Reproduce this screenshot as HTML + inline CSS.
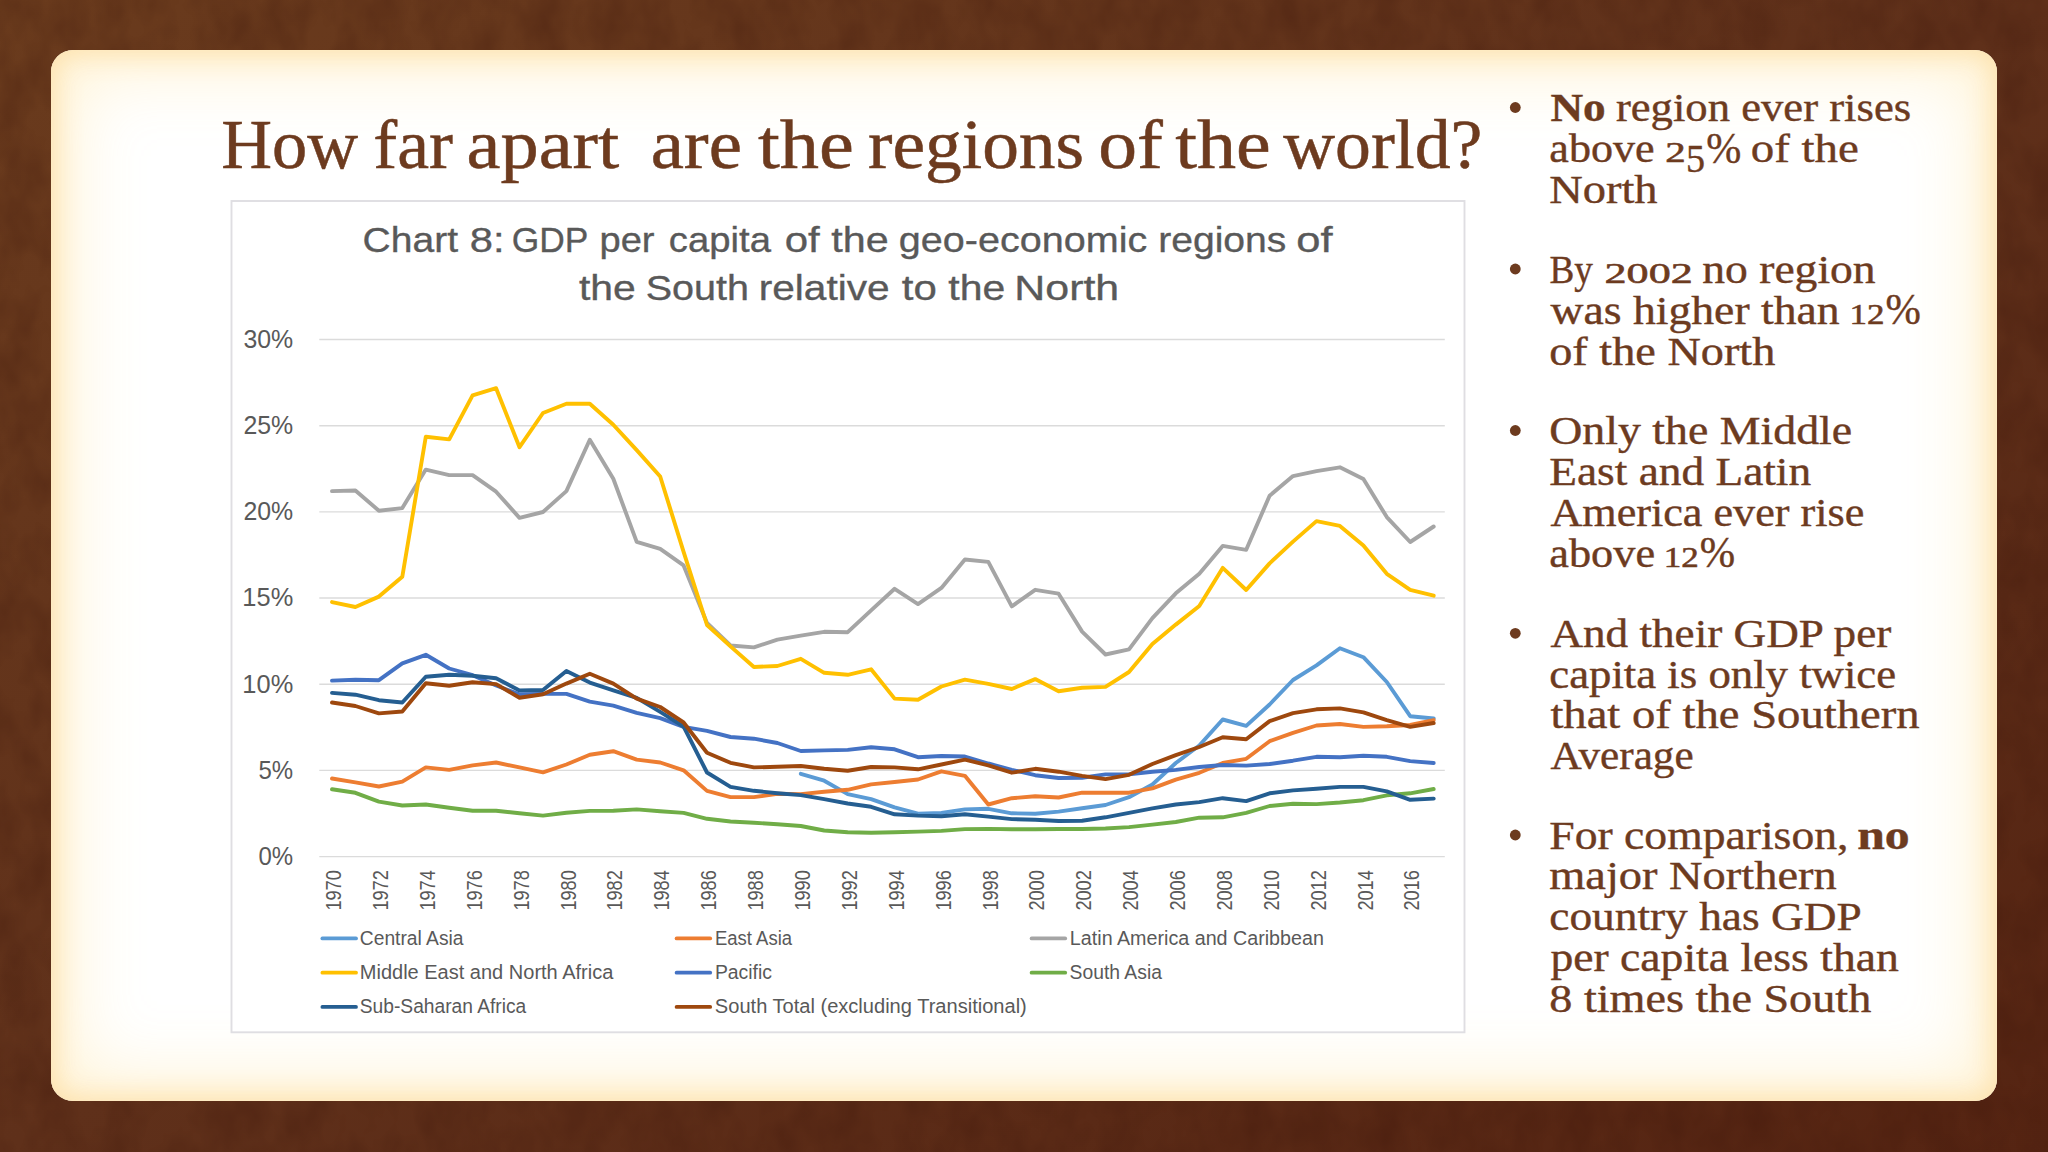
<!DOCTYPE html>
<html lang="en">
<head>
<meta charset="utf-8">
<title>How far apart are the regions of the world?</title>
<style>
html,body{margin:0;padding:0;}
body{width:2048px;height:1152px;overflow:hidden;position:relative;
 background:linear-gradient(to bottom right,#6a3b1d 0%,#5f301a 50%,#552412 100%);}
#card{position:absolute;left:51px;top:50px;width:1946px;height:1051px;border-radius:22px;
 background:#ffffff;
 box-shadow:inset 0 0 26px 5px rgba(253,224,168,0.9), inset 0 0 70px 22px rgba(255,241,206,0.85);}
</style>
</head>
<body>
<svg width="2048" height="1152" style="position:absolute;left:0;top:0">
<filter id="tex" x="0" y="0" width="100%" height="100%" color-interpolation-filters="sRGB">
<feTurbulence type="fractalNoise" baseFrequency="0.03 0.02" numOctaves="3" seed="7" result="n"/>
<feColorMatrix type="matrix" values="0 0 0 0 0.22  0 0 0 0 0.07  0 0 0 0 0.03  1.3 0 0 0 -0.45"/>
</filter>
<rect width="2048" height="1152" filter="url(#tex)" opacity="0.38"/>
</svg>
<div id="card"></div>
<svg width="2048" height="1152" viewBox="0 0 2048 1152" style="position:absolute;left:0;top:0">
<rect x="231.5" y="201" width="1233" height="831.3" fill="#ffffff" stroke="#dfdee2" stroke-width="1.9"/>
<line x1="319.3" y1="856.60" x2="1444.8" y2="856.60" stroke="#dbdbdb" stroke-width="1.4"/>
<line x1="319.3" y1="770.42" x2="1444.8" y2="770.42" stroke="#dbdbdb" stroke-width="1.4"/>
<line x1="319.3" y1="684.24" x2="1444.8" y2="684.24" stroke="#dbdbdb" stroke-width="1.4"/>
<line x1="319.3" y1="598.06" x2="1444.8" y2="598.06" stroke="#dbdbdb" stroke-width="1.4"/>
<line x1="319.3" y1="511.88" x2="1444.8" y2="511.88" stroke="#dbdbdb" stroke-width="1.4"/>
<line x1="319.3" y1="425.70" x2="1444.8" y2="425.70" stroke="#dbdbdb" stroke-width="1.4"/>
<line x1="319.3" y1="339.52" x2="1444.8" y2="339.52" stroke="#dbdbdb" stroke-width="1.4"/>
<g font-family="'Liberation Sans', sans-serif" font-size="25.3" fill="#595959">
<text x="258.45" y="865.00" textLength="34.68" lengthAdjust="spacingAndGlyphs">0%</text>
<text x="258.45" y="778.82" textLength="34.68" lengthAdjust="spacingAndGlyphs">5%</text>
<text x="242.39" y="692.64" textLength="50.85" lengthAdjust="spacingAndGlyphs">10%</text>
<text x="242.39" y="606.46" textLength="50.85" lengthAdjust="spacingAndGlyphs">15%</text>
<text x="243.42" y="520.28" textLength="49.81" lengthAdjust="spacingAndGlyphs">20%</text>
<text x="243.42" y="434.10" textLength="49.81" lengthAdjust="spacingAndGlyphs">25%</text>
<text x="243.42" y="347.92" textLength="49.81" lengthAdjust="spacingAndGlyphs">30%</text>
</g>
<g font-family="'Liberation Sans', sans-serif" font-size="21.6" fill="#595959">
<text transform="translate(341.20,910.6) rotate(-90)" textLength="40.4" lengthAdjust="spacingAndGlyphs">1970</text>
<text transform="translate(388.08,910.6) rotate(-90)" textLength="40.4" lengthAdjust="spacingAndGlyphs">1972</text>
<text transform="translate(434.96,910.6) rotate(-90)" textLength="40.4" lengthAdjust="spacingAndGlyphs">1974</text>
<text transform="translate(481.84,910.6) rotate(-90)" textLength="40.4" lengthAdjust="spacingAndGlyphs">1976</text>
<text transform="translate(528.72,910.6) rotate(-90)" textLength="40.4" lengthAdjust="spacingAndGlyphs">1978</text>
<text transform="translate(575.60,910.6) rotate(-90)" textLength="40.4" lengthAdjust="spacingAndGlyphs">1980</text>
<text transform="translate(622.48,910.6) rotate(-90)" textLength="40.4" lengthAdjust="spacingAndGlyphs">1982</text>
<text transform="translate(669.36,910.6) rotate(-90)" textLength="40.4" lengthAdjust="spacingAndGlyphs">1984</text>
<text transform="translate(716.24,910.6) rotate(-90)" textLength="40.4" lengthAdjust="spacingAndGlyphs">1986</text>
<text transform="translate(763.12,910.6) rotate(-90)" textLength="40.4" lengthAdjust="spacingAndGlyphs">1988</text>
<text transform="translate(810.00,910.6) rotate(-90)" textLength="40.4" lengthAdjust="spacingAndGlyphs">1990</text>
<text transform="translate(856.88,910.6) rotate(-90)" textLength="40.4" lengthAdjust="spacingAndGlyphs">1992</text>
<text transform="translate(903.76,910.6) rotate(-90)" textLength="40.4" lengthAdjust="spacingAndGlyphs">1994</text>
<text transform="translate(950.64,910.6) rotate(-90)" textLength="40.4" lengthAdjust="spacingAndGlyphs">1996</text>
<text transform="translate(997.52,910.6) rotate(-90)" textLength="40.4" lengthAdjust="spacingAndGlyphs">1998</text>
<text transform="translate(1044.40,910.6) rotate(-90)" textLength="40.4" lengthAdjust="spacingAndGlyphs">2000</text>
<text transform="translate(1091.28,910.6) rotate(-90)" textLength="40.4" lengthAdjust="spacingAndGlyphs">2002</text>
<text transform="translate(1138.16,910.6) rotate(-90)" textLength="40.4" lengthAdjust="spacingAndGlyphs">2004</text>
<text transform="translate(1185.04,910.6) rotate(-90)" textLength="40.4" lengthAdjust="spacingAndGlyphs">2006</text>
<text transform="translate(1231.92,910.6) rotate(-90)" textLength="40.4" lengthAdjust="spacingAndGlyphs">2008</text>
<text transform="translate(1278.80,910.6) rotate(-90)" textLength="40.4" lengthAdjust="spacingAndGlyphs">2010</text>
<text transform="translate(1325.68,910.6) rotate(-90)" textLength="40.4" lengthAdjust="spacingAndGlyphs">2012</text>
<text transform="translate(1372.56,910.6) rotate(-90)" textLength="40.4" lengthAdjust="spacingAndGlyphs">2014</text>
<text transform="translate(1419.44,910.6) rotate(-90)" textLength="40.4" lengthAdjust="spacingAndGlyphs">2016</text>
</g>
<g font-family="'Liberation Sans', sans-serif" font-size="35.6" stroke="#595959" stroke-width="0.35" fill="#595959">
<text y="251.5"><tspan x="362.61" textLength="95.39" lengthAdjust="spacingAndGlyphs">Chart</tspan> <tspan x="469.83" textLength="34.81" lengthAdjust="spacingAndGlyphs">8:</tspan> <tspan x="511.73" textLength="76.05" lengthAdjust="spacingAndGlyphs">GDP</tspan> <tspan x="599.46" textLength="55.09" lengthAdjust="spacingAndGlyphs">per</tspan> <tspan x="668.82" textLength="102.13" lengthAdjust="spacingAndGlyphs">capita</tspan> <tspan x="784.72" textLength="34.99" lengthAdjust="spacingAndGlyphs">of</tspan> <tspan x="831.3" textLength="57.4" lengthAdjust="spacingAndGlyphs">the</tspan> <tspan x="898.79" textLength="248.45" lengthAdjust="spacingAndGlyphs">geo-economic</tspan> <tspan x="1158.2" textLength="128.17" lengthAdjust="spacingAndGlyphs">regions</tspan> <tspan x="1296.28" textLength="36.32" lengthAdjust="spacingAndGlyphs">of</tspan></text>
<text y="300.3"><tspan x="579.0" textLength="56.79" lengthAdjust="spacingAndGlyphs">the</tspan> <tspan x="645.78" textLength="103.22" lengthAdjust="spacingAndGlyphs">South</tspan> <tspan x="758.72" textLength="130.93" lengthAdjust="spacingAndGlyphs">relative</tspan> <tspan x="901.8" textLength="34.99" lengthAdjust="spacingAndGlyphs">to</tspan> <tspan x="948.3" textLength="56.89" lengthAdjust="spacingAndGlyphs">the</tspan> <tspan x="1014.39" textLength="104.82" lengthAdjust="spacingAndGlyphs">North</tspan></text>
</g>
<g fill="none" stroke-width="3.9" stroke-linecap="round" stroke-linejoin="round">
<polyline stroke="#5b9bd5" points="800.8,773.8 824.2,780.7 847.7,794.1 871.1,799.2 894.6,807.4 918.0,813.7 941.4,812.9 964.9,809.4 988.3,808.8 1011.8,813.3 1035.2,813.7 1058.6,811.6 1082.1,808.2 1105.5,805.0 1129.0,797.2 1152.4,784.5 1175.8,763.0 1199.3,745.5 1222.7,719.5 1246.2,725.9 1269.6,704.5 1293.0,680.0 1316.5,665.4 1339.9,648.2 1363.4,657.2 1386.8,682.0 1410.2,716.2 1433.7,718.5"/>
<polyline stroke="#ed7d31" points="332.0,778.5 355.4,782.4 378.9,786.5 402.3,781.6 425.8,767.4 449.2,769.9 472.6,765.4 496.1,762.5 519.5,767.4 543.0,772.3 566.4,764.5 589.8,754.7 613.3,751.2 636.7,759.6 660.2,762.5 683.6,770.3 707.0,790.9 730.5,797.1 753.9,797.1 777.4,793.8 800.8,794.1 824.2,791.8 847.7,789.8 871.1,784.4 894.6,782.0 918.0,779.5 941.4,771.3 964.9,775.8 988.3,804.5 1011.8,798.2 1035.2,796.3 1058.6,797.5 1082.1,792.7 1105.5,792.7 1129.0,792.7 1152.4,788.4 1175.8,779.6 1199.3,772.8 1222.7,763.0 1246.2,758.8 1269.6,741.2 1293.0,732.8 1316.5,725.5 1339.9,724.0 1363.4,726.9 1386.8,726.3 1410.2,725.0 1433.7,720.1"/>
<polyline stroke="#a5a5a5" points="332.0,491.1 355.4,490.5 378.9,510.7 402.3,508.1 425.8,469.6 449.2,475.1 472.6,475.1 496.1,491.7 519.5,517.9 543.0,512.0 566.4,491.1 589.8,439.8 613.3,478.8 636.7,541.9 660.2,548.8 683.6,565.4 707.0,623.0 730.5,645.5 753.9,647.4 777.4,639.6 800.8,635.7 824.2,631.8 847.7,632.2 871.1,610.3 894.6,588.8 918.0,604.1 941.4,587.9 964.9,559.5 988.3,561.9 1011.8,606.4 1035.2,589.8 1058.6,593.7 1082.1,631.6 1105.5,654.5 1129.0,649.4 1152.4,618.1 1175.8,593.3 1199.3,573.8 1222.7,545.9 1246.2,549.8 1269.6,495.7 1293.0,476.1 1316.5,471.2 1339.9,467.3 1363.4,479.1 1386.8,517.1 1410.2,542.0 1433.7,526.5"/>
<polyline stroke="#ffc000" points="332.0,602.1 355.4,607.0 378.9,596.6 402.3,576.7 425.8,436.8 449.2,439.4 472.6,395.4 496.1,388.2 519.5,447.2 543.0,413.0 566.4,403.8 589.8,403.7 613.3,424.7 636.7,450.1 660.2,476.5 683.6,551.8 707.0,625.0 730.5,646.4 753.9,667.0 777.4,666.0 800.8,658.8 824.2,672.8 847.7,674.8 871.1,669.3 894.6,698.6 918.0,699.8 941.4,686.5 964.9,679.6 988.3,683.9 1011.8,689.0 1035.2,679.1 1058.6,691.3 1082.1,687.7 1105.5,686.9 1129.0,672.0 1152.4,644.0 1175.8,624.6 1199.3,606.0 1222.7,567.9 1246.2,590.0 1269.6,563.4 1293.0,541.6 1316.5,521.1 1339.9,525.9 1363.4,545.5 1386.8,573.8 1410.2,589.8 1433.7,595.7"/>
<polyline stroke="#4472c4" points="332.0,680.6 355.4,679.8 378.9,680.2 402.3,663.4 425.8,654.8 449.2,668.5 472.6,675.2 496.1,685.5 519.5,694.3 543.0,693.9 566.4,693.9 589.8,701.7 613.3,705.6 636.7,712.9 660.2,718.1 683.6,726.9 707.0,730.8 730.5,737.0 753.9,738.7 777.4,743.0 800.8,751.0 824.2,750.4 847.7,749.9 871.1,747.2 894.6,749.3 918.0,757.2 941.4,756.0 964.9,756.5 988.3,763.5 1011.8,769.9 1035.2,775.2 1058.6,778.0 1082.1,777.7 1105.5,774.4 1129.0,774.4 1152.4,771.8 1175.8,769.9 1199.3,767.0 1222.7,765.0 1246.2,765.6 1269.6,764.0 1293.0,760.7 1316.5,756.8 1339.9,757.2 1363.4,755.8 1386.8,756.8 1410.2,761.1 1433.7,763.0"/>
<polyline stroke="#70ad47" points="332.0,789.3 355.4,792.8 378.9,801.6 402.3,805.5 425.8,804.5 449.2,807.8 472.6,810.7 496.1,810.7 519.5,813.3 543.0,815.6 566.4,812.7 589.8,810.9 613.3,810.7 636.7,809.4 660.2,811.3 683.6,812.9 707.0,818.8 730.5,821.5 753.9,822.7 777.4,824.2 800.8,826.0 824.2,830.5 847.7,832.2 871.1,832.8 894.6,832.2 918.0,831.6 941.4,830.9 964.9,829.1 988.3,828.9 1011.8,829.3 1035.2,829.3 1058.6,829.0 1082.1,829.0 1105.5,828.5 1129.0,827.1 1152.4,824.6 1175.8,822.0 1199.3,817.7 1222.7,817.3 1246.2,812.9 1269.6,806.0 1293.0,803.7 1316.5,804.1 1339.9,802.5 1363.4,800.2 1386.8,795.3 1410.2,793.3 1433.7,789.0"/>
<polyline stroke="#255e91" points="332.0,692.9 355.4,694.7 378.9,700.2 402.3,702.5 425.8,676.7 449.2,674.8 472.6,675.7 496.1,678.3 519.5,690.4 543.0,690.0 566.4,670.9 589.8,682.6 613.3,690.4 636.7,697.8 660.2,711.9 683.6,726.5 707.0,772.5 730.5,786.9 753.9,790.8 777.4,793.2 800.8,795.1 824.2,799.2 847.7,803.5 871.1,806.8 894.6,814.3 918.0,815.6 941.4,816.2 964.9,814.3 988.3,816.6 1011.8,819.1 1035.2,819.7 1058.6,821.0 1082.1,820.7 1105.5,817.3 1129.0,812.9 1152.4,808.4 1175.8,804.5 1199.3,802.1 1222.7,798.2 1246.2,801.1 1269.6,793.3 1293.0,790.4 1316.5,788.8 1339.9,786.9 1363.4,786.9 1386.8,791.4 1410.2,799.8 1433.7,798.6"/>
<polyline stroke="#9e480e" points="332.0,702.5 355.4,706.0 378.9,713.4 402.3,711.5 425.8,683.2 449.2,685.7 472.6,682.2 496.1,684.1 519.5,697.8 543.0,694.3 566.4,683.6 589.8,673.8 613.3,683.6 636.7,698.6 660.2,707.0 683.6,722.5 707.0,752.8 730.5,762.8 753.9,767.4 777.4,766.8 800.8,766.0 824.2,768.8 847.7,770.7 871.1,767.0 894.6,767.4 918.0,769.3 941.4,764.5 964.9,759.6 988.3,765.4 1011.8,772.7 1035.2,768.8 1058.6,771.7 1082.1,775.9 1105.5,779.1 1129.0,774.8 1152.4,764.0 1175.8,755.2 1199.3,747.0 1222.7,737.3 1246.2,739.2 1269.6,721.1 1293.0,713.2 1316.5,709.3 1339.9,708.4 1363.4,712.3 1386.8,720.1 1410.2,726.9 1433.7,723.0"/>
</g>
<g font-family="'Liberation Sans', sans-serif" font-size="19.4" fill="#595959">
<line x1="322.40000000000003" y1="938.4" x2="356.0" y2="938.4" stroke="#5b9bd5" stroke-width="3.8" stroke-linecap="round"/>
<text x="359.81" y="944.6" textLength="103.74" lengthAdjust="spacingAndGlyphs">Central Asia</text>
<line x1="676.6" y1="938.4" x2="710.2" y2="938.4" stroke="#ed7d31" stroke-width="3.8" stroke-linecap="round"/>
<text x="714.95" y="944.6" textLength="77.1" lengthAdjust="spacingAndGlyphs">East Asia</text>
<line x1="1031.6" y1="938.4" x2="1065.2" y2="938.4" stroke="#a5a5a5" stroke-width="3.8" stroke-linecap="round"/>
<text x="1069.88" y="944.6" textLength="254.03" lengthAdjust="spacingAndGlyphs">Latin America and Caribbean</text>
<line x1="322.40000000000003" y1="972.7" x2="356.0" y2="972.7" stroke="#ffc000" stroke-width="3.8" stroke-linecap="round"/>
<text x="359.77" y="978.9" textLength="253.56" lengthAdjust="spacingAndGlyphs">Middle East and North Africa</text>
<line x1="676.6" y1="972.7" x2="710.2" y2="972.7" stroke="#4472c4" stroke-width="3.8" stroke-linecap="round"/>
<text x="714.9" y="978.9" textLength="57.12" lengthAdjust="spacingAndGlyphs">Pacific</text>
<line x1="1031.6" y1="972.7" x2="1065.2" y2="972.7" stroke="#70ad47" stroke-width="3.8" stroke-linecap="round"/>
<text x="1069.6" y="978.9" textLength="92.32" lengthAdjust="spacingAndGlyphs">South Asia</text>
<line x1="322.40000000000003" y1="1006.9" x2="356.0" y2="1006.9" stroke="#255e91" stroke-width="3.8" stroke-linecap="round"/>
<text x="359.81" y="1013.1" textLength="166.44" lengthAdjust="spacingAndGlyphs">Sub-Saharan Africa</text>
<line x1="676.6" y1="1006.9" x2="710.2" y2="1006.9" stroke="#9e480e" stroke-width="3.8" stroke-linecap="round"/>
<text x="714.87" y="1013.1" textLength="311.94" lengthAdjust="spacingAndGlyphs">South Total (excluding Transitional)</text>
</g>
<g font-family="'Liberation Serif', serif" font-size="69.5" fill="#6d3b1f" stroke="#6d3b1f" stroke-width="0.5">
<text y="168.3"><tspan x="221.17" textLength="136.87" lengthAdjust="spacingAndGlyphs">How</tspan> <tspan x="373.33" textLength="79.71" lengthAdjust="spacingAndGlyphs">far</tspan> <tspan x="466.5" textLength="152.8" lengthAdjust="spacingAndGlyphs">apart</tspan>  <tspan x="650.65" textLength="91.34" lengthAdjust="spacingAndGlyphs">are</tspan> <tspan x="757.9" textLength="95.87" lengthAdjust="spacingAndGlyphs">the</tspan> <tspan x="868.04" textLength="216.11" lengthAdjust="spacingAndGlyphs">regions</tspan> <tspan x="1098.17" textLength="64.63" lengthAdjust="spacingAndGlyphs">of</tspan> <tspan x="1175.2" textLength="95.56" lengthAdjust="spacingAndGlyphs">the</tspan> <tspan x="1283.3" textLength="199.06" lengthAdjust="spacingAndGlyphs">world?</tspan></text>
</g>
<g font-family="'Liberation Serif', serif" font-size="40.2" fill="#6d3b1f" stroke="#6d3b1f" stroke-width="0.4">
<circle cx="1515.3" cy="107.5" r="5.4" stroke="none"/>
<text><tspan x="1550.4" y="121.1" textLength="55.27" lengthAdjust="spacingAndGlyphs" font-weight="bold">No</tspan> <tspan x="1615.9" y="121.1" textLength="295.25" lengthAdjust="spacingAndGlyphs">region ever rises</tspan></text>
<text><tspan x="1549.3" y="162.1" textLength="105.36" lengthAdjust="spacingAndGlyphs">above</tspan> <tspan x="1665.28" y="162.1" textLength="20.48" lengthAdjust="spacingAndGlyphs" font-size="28.9" stroke-width="0.55">2</tspan><tspan x="1685.91" y="171.6" textLength="19.03" lengthAdjust="spacingAndGlyphs">5</tspan><tspan x="1706.34" y="162.7" textLength="35.04" lengthAdjust="spacingAndGlyphs" font-size="44">%</tspan> <tspan x="1750.73" y="162.1" textLength="108.06" lengthAdjust="spacingAndGlyphs">of the</tspan></text>
<text><tspan x="1549.25" y="203.2" textLength="108.28" lengthAdjust="spacingAndGlyphs">North</tspan></text>
<circle cx="1515.3" cy="269.0" r="5.4" stroke="none"/>
<text><tspan x="1549.47" y="282.6" textLength="43.44" lengthAdjust="spacingAndGlyphs">By</tspan> <tspan x="1604.57" y="282.6" textLength="88.25" lengthAdjust="spacingAndGlyphs" font-size="28.9" stroke-width="0.55">2002</tspan> <tspan x="1702.27" y="282.6" textLength="173.33" lengthAdjust="spacingAndGlyphs">no region</tspan></text>
<text><tspan x="1550.4" y="323.6" textLength="289.32" lengthAdjust="spacingAndGlyphs">was higher than</tspan> <tspan x="1849.48" y="323.6" textLength="35.0" lengthAdjust="spacingAndGlyphs" font-size="28.9" stroke-width="0.55">12</tspan><tspan x="1885.54" y="324.2" textLength="35.36" lengthAdjust="spacingAndGlyphs" font-size="44">%</tspan></text>
<text><tspan x="1549.25" y="364.7" textLength="226.05" lengthAdjust="spacingAndGlyphs">of the North</tspan></text>
<circle cx="1515.3" cy="430.5" r="5.4" stroke="none"/>
<text><tspan x="1549.26" y="444.1" textLength="302.93" lengthAdjust="spacingAndGlyphs">Only the Middle</tspan></text>
<text><tspan x="1549.27" y="485.0" textLength="261.87" lengthAdjust="spacingAndGlyphs">East and Latin</tspan></text>
<text><tspan x="1550.4" y="525.9" textLength="313.99" lengthAdjust="spacingAndGlyphs">America ever rise</tspan></text>
<text><tspan x="1549.3" y="566.8" textLength="105.77" lengthAdjust="spacingAndGlyphs">above</tspan> <tspan x="1663.68" y="566.8" textLength="35.0" lengthAdjust="spacingAndGlyphs" font-size="28.9" stroke-width="0.55">12</tspan><tspan x="1699.74" y="567.4" textLength="35.36" lengthAdjust="spacingAndGlyphs" font-size="44">%</tspan></text>
<circle cx="1515.3" cy="633.3" r="5.4" stroke="none"/>
<text><tspan x="1550.4" y="646.9" textLength="340.85" lengthAdjust="spacingAndGlyphs">And their GDP per</tspan></text>
<text><tspan x="1549.29" y="687.8" textLength="346.83" lengthAdjust="spacingAndGlyphs">capita is only twice</tspan></text>
<text><tspan x="1550.4" y="728.0" textLength="369.21" lengthAdjust="spacingAndGlyphs">that of the Southern</tspan></text>
<text><tspan x="1550.4" y="768.6" textLength="143.31" lengthAdjust="spacingAndGlyphs">Average</tspan></text>
<circle cx="1515.3" cy="835.0" r="5.4" stroke="none"/>
<text><tspan x="1549.26" y="848.6" textLength="299.19" lengthAdjust="spacingAndGlyphs">For comparison,</tspan> <tspan x="1857.16" y="848.6" textLength="52.54" lengthAdjust="spacingAndGlyphs" font-weight="bold">no</tspan></text>
<text><tspan x="1549.25" y="889.2" textLength="287.39" lengthAdjust="spacingAndGlyphs">major Northern</tspan></text>
<text><tspan x="1549.27" y="930.3" textLength="312.39" lengthAdjust="spacingAndGlyphs">country has GDP</tspan></text>
<text><tspan x="1550.4" y="971.0" textLength="348.46" lengthAdjust="spacingAndGlyphs">per capita less than</tspan></text>
<text><tspan x="1549.25" y="1012.3" textLength="321.98" lengthAdjust="spacingAndGlyphs">8 times the South</tspan></text>
</g>
</svg>
</body>
</html>
